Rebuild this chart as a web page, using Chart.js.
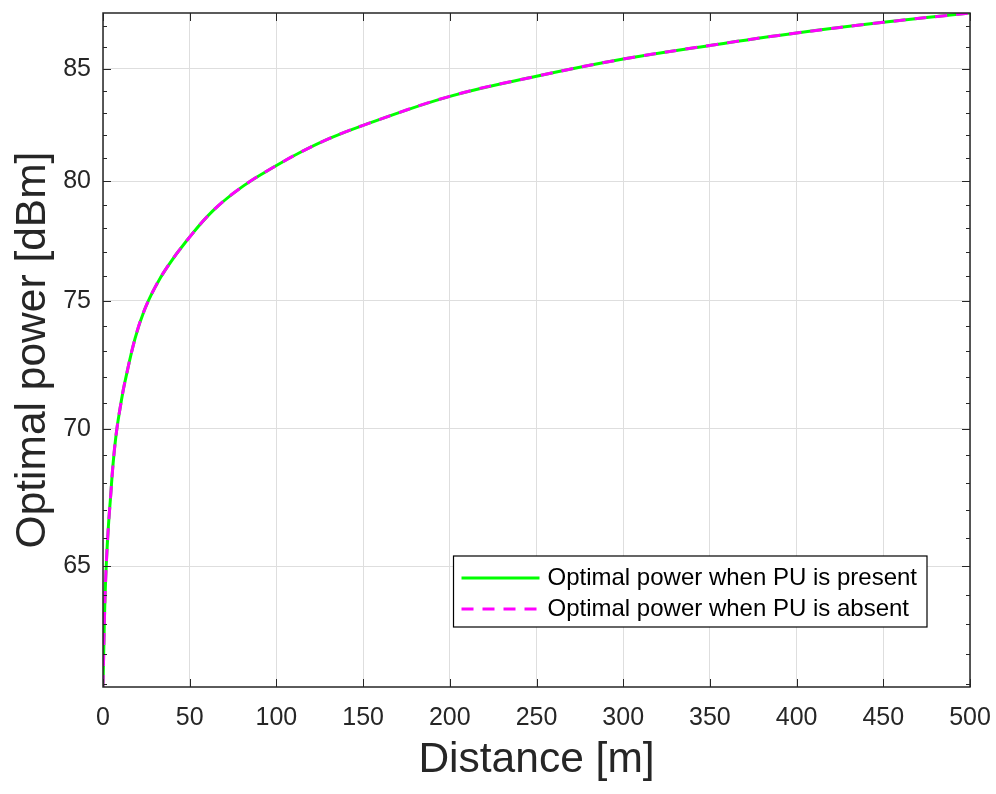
<!DOCTYPE html>
<html>
<head>
  <meta charset="utf-8">
  <title>Optimal power vs distance</title>
  <script src="https://cdn.jsdelivr.net/npm/chart.js"></script>
  <style>
    body { margin: 0; background: #fff; }
    #wrap { width: 996px; height: 794px; }
  </style>
</head>
<body>
  <div id="wrap"><canvas id="powerChart" width="996" height="794"></canvas></div>

  <script>
    // distances [m]
    const distance = [0, 0.5, 1.1, 2, 3.1, 4.4, 5.9, 7.9, 10.8, 12.5, 18.5, 24, 30, 36.7, 48, 63.6, 81, 100, 113.6, 131, 150, 200, 250, 300, 350, 400, 450, 500];
    // optimal power [dBm], both curves sit on top of each other
    const powerPresent = [60.9, 62.3, 63.8, 65.2, 66.4, 67.5, 68.75, 69.95, 71.15, 71.75, 73.5, 74.65, 75.55, 76.35, 77.45, 78.75, 79.8, 80.68, 81.25, 81.88, 82.45, 83.75, 84.66, 85.45, 86.08, 86.66, 87.16, 87.6];
    const powerAbsent  = [60.9, 62.3, 63.8, 65.2, 66.4, 67.5, 68.75, 69.95, 71.15, 71.75, 73.5, 74.65, 75.55, 76.35, 77.45, 78.75, 79.8, 80.68, 81.25, 81.88, 82.45, 83.75, 84.66, 85.45, 86.08, 86.66, 87.16, 87.6];
    const xTicks = [0, 50, 100, 150, 200, 250, 300, 350, 400, 450, 500];
    const yTicks = [65, 70, 75, 80, 85];

    const FONT = '"Liberation Sans", Arial, sans-serif';
    const AXIS_COL = '#262626';

    // MATLAB-like box with inward ticks, plus the legend inside the axes
    const matlabBox = {
      id: 'matlabBox',
      afterDraw(chart) {
        const ctx = chart.ctx;
        const a = chart.chartArea;
        const xs = chart.scales.x, ys = chart.scales.y;
        ctx.save();
        ctx.strokeStyle = AXIS_COL;
        ctx.lineWidth = 1.5;
        ctx.strokeRect(a.left, a.top, a.right - a.left, a.bottom - a.top);
        ctx.lineWidth = 1;
        ctx.beginPath();
        xTicks.forEach(v => {
          const px = Math.round(xs.getPixelForValue(v)) + 0.5;
          ctx.moveTo(px, a.bottom); ctx.lineTo(px, a.bottom - 8);
          ctx.moveTo(px, a.top); ctx.lineTo(px, a.top + 8);
        });
        for (let v = 61; v <= 87; v++) {
          const py = Math.round(ys.getPixelForValue(v)) + 0.5;
          const len = yTicks.includes(v) ? 8 : 4;
          ctx.moveTo(a.left, py); ctx.lineTo(a.left + len, py);
          ctx.moveTo(a.right, py); ctx.lineTo(a.right - len, py);
        }
        ctx.stroke();

        // legend
        ctx.font = '24px ' + FONT;
        const labels = chart.data.datasets.map(d => d.label);
        const textW = Math.max(...labels.map(l => ctx.measureText(l).width));
        const boxW = 8 + 78 + 8 + textW + 10;
        const boxH = 71;
        const bx = a.right - 43 - boxW;
        const by = a.bottom - 60 - boxH;
        ctx.fillStyle = '#fff';
        ctx.fillRect(bx, by, boxW, boxH);
        ctx.strokeStyle = '#000';
        ctx.lineWidth = 1.2;
        ctx.strokeRect(bx, by, boxW, boxH);
        chart.data.datasets.forEach((ds, i) => {
          const cy = by + 22 + i * 31;
          ctx.strokeStyle = ds.borderColor;
          ctx.lineWidth = ds.borderWidth;
          ctx.setLineDash(ds.borderDash || []);
          ctx.beginPath();
          ctx.moveTo(bx + 8, cy); ctx.lineTo(bx + 86, cy);
          ctx.stroke();
          ctx.setLineDash([]);
          ctx.fillStyle = '#000';
          ctx.textBaseline = 'middle';
          ctx.fillText(ds.label, bx + 94, cy);
        });
        ctx.restore();
      }
    };

    const ctx = document.getElementById('powerChart').getContext('2d');
    new Chart(ctx, {
      type: 'line',
      data: {
        datasets: [
          {
            label: 'Optimal power when PU is present',
            data: distance.map((d, i) => ({ x: d, y: powerPresent[i] })),
            borderColor: '#00ff00',
            borderWidth: 3,
            pointRadius: 0,
            tension: 0.4,
            order: 1
          },
          {
            label: 'Optimal power when PU is absent',
            data: distance.map((d, i) => ({ x: d, y: powerAbsent[i] })),
            borderColor: '#ff00ff',
            borderWidth: 3,
            borderDash: [12, 9],
            pointRadius: 0,
            tension: 0.4,
            order: 0
          }
        ]
      },
      options: {
        responsive: false,
        animation: false,
        layout: { padding: { top: 13, right: 26, left: 0, bottom: 0 } },
        plugins: { legend: { display: false }, tooltip: { enabled: false } },
        scales: {
          x: {
            type: 'linear',
            min: 0,
            max: 500,
            afterBuildTicks: s => { s.ticks = xTicks.map(v => ({ value: v })); },
            afterFit: s => { s.height = 794 - 687; s.paddingLeft = 0; s.paddingRight = 0; },
            grid: { color: '#dedede', drawTicks: false },
            border: { display: false },
            ticks: { color: AXIS_COL, font: { family: FONT, size: 25 }, padding: 16, maxRotation: 0 },
            title: { display: true, text: 'Distance [m]', color: AXIS_COL, font: { family: FONT, size: 42.5 }, padding: { bottom: 8 } }
          },
          y: {
            type: 'logarithmic',
            min: 60.9,
            max: 87.6,
            afterBuildTicks: s => { s.ticks = yTicks.map(v => ({ value: v })); },
            afterFit: s => { s.width = 103; s.paddingTop = 0; s.paddingBottom = 0; },
            grid: { color: '#dedede', drawTicks: false },
            border: { display: false },
            ticks: { color: AXIS_COL, font: { family: FONT, size: 25 }, padding: 12, callback: v => String(v) },
            title: { display: true, text: 'Optimal power [dBm]', color: AXIS_COL, font: { family: FONT, size: 42.5 }, padding: { top: 8 } }
          }
        }
      },
      plugins: [matlabBox]
    });
  </script>
</body>
</html>
